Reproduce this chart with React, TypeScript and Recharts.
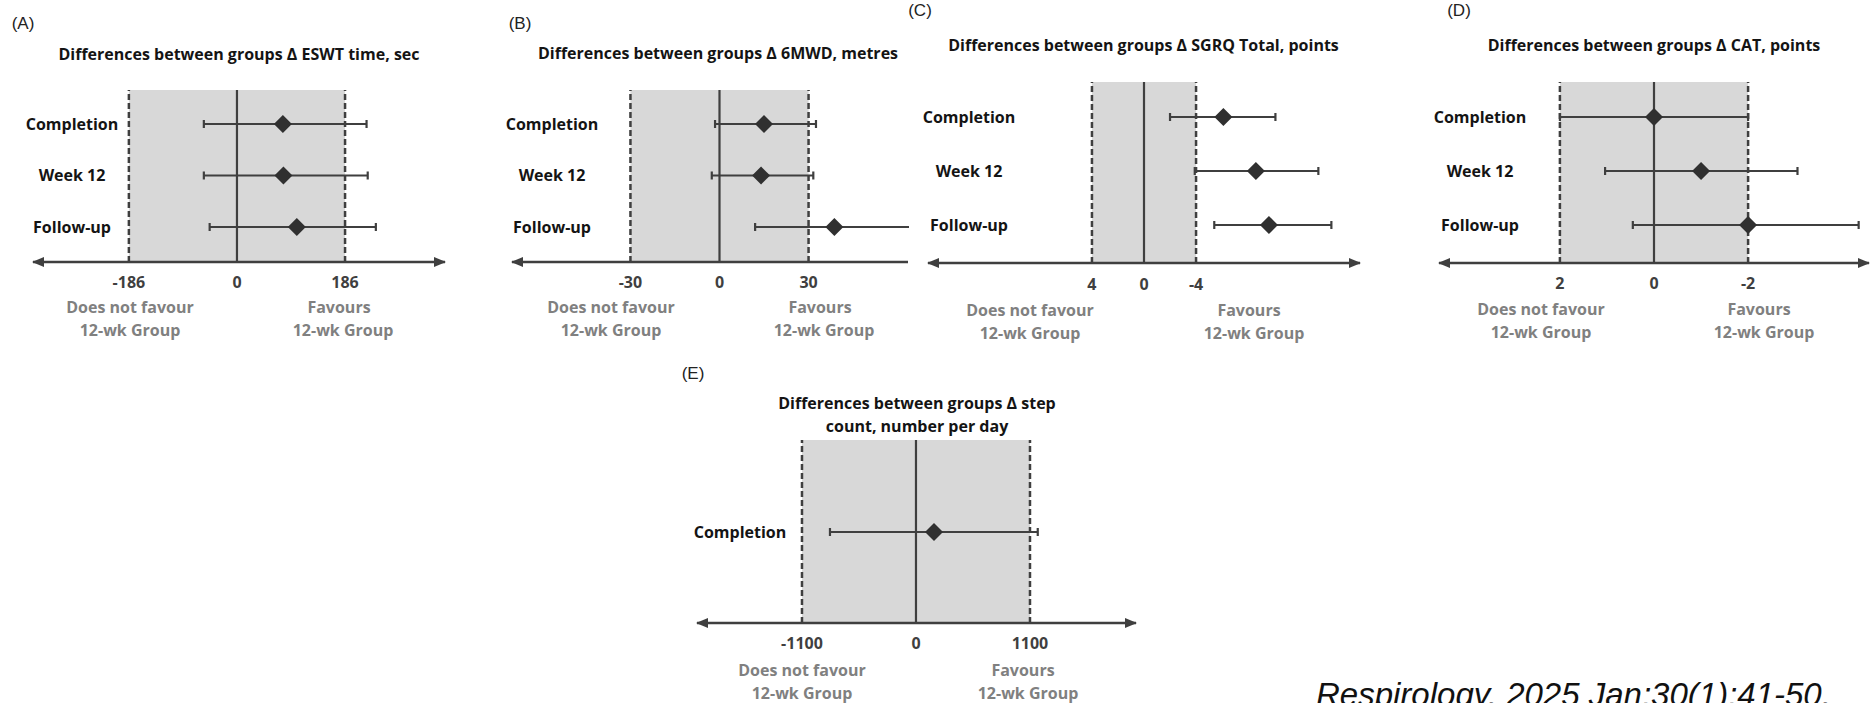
import React from 'react';
import { ScatterChart, Scatter, XAxis, YAxis, ReferenceArea, ReferenceLine, ErrorBar } from 'recharts';

const FONT = "'Open Sans', 'Noto Sans', sans-serif";
const INK = '#3f3f3f';
const DARK = '#141414';
const GREY = '#808080';
const SHADE = '#d8d8d8';

// ---------- data ----------
const rows3 = ['Completion', 'Week 12', 'Follow-up'];
const rows1 = ['Completion'];

// (A) ESWT time, sec
const eswtEst = [79, 80, 103];
const eswtLow = [-57, -57, -47];
const eswtHigh = [223, 225, 239];
const eswtTicks = [-186, 0, 186];

// (B) 6MWD, metres
const mwdEst = [15, 14, 38.7];
const mwdLow = [-1.5, -2.6, 12];
const mwdHigh = [32.5, 31.6, 66];
const mwdTicks = [-30, 0, 30];

// (C) SGRQ Total, points (axis reversed)
const sgrqEst = [-6.1, -8.6, -9.6];
const sgrqLow = [-2.0, -3.9, -5.4];
const sgrqHigh = [-10.1, -13.4, -14.4];
const sgrqTicks = [4, 0, -4];

// (D) CAT, points (axis reversed)
const catEst = [0, -1.0, -2.0];
const catLow = [2.0, 1.04, 0.45];
const catHigh = [-2.0, -3.05, -4.35];
const catTicks = [2, 0, -2];

// (E) step count, number per day
const stepEst = [174];
const stepLow = [-830];
const stepHigh = [1175];
const stepTicks = [-1100, 0, 1100];

const leftLabel = ['Does not favour', '12-wk Group'];
const rightLabel = ['Favours', '12-wk Group'];

type Cfg = {
  id: string;
  label: string;
  title: string[];
  rows: string[];
  est: number[];
  lo: number[];
  hi: number[];
  ticks: number[];
  shade: [number, number];
  domain: [number, number];
  reversed: boolean;
  rowDomain: [number, number];
  x0: number; x1: number; y0: number; y1: number;
  labelCX: number;
  tickY: number;
  arrowL: boolean; arrowR: boolean;
  clipRight: boolean;
  panelPos: [number, number];
  titlePos: [number, number];
  titleGap: number;
  dnf: [number, number, number, number];
  fav: [number, number, number, number];
};

const panels: Cfg[] = [
  {
    id: 'A', label: '(A)', title: ['Differences between groups \u0394 ESWT time, sec'],
    rows: rows3, est: eswtEst, lo: eswtLow, hi: eswtHigh, ticks: eswtTicks,
    shade: [-186, 186], domain: [-351, 358], reversed: false, rowDomain: [-0.66, 2.68],
    x0: 33, x1: 445, y0: 90, y1: 262, labelCX: 72, tickY: 282, arrowL: true, arrowR: true, clipRight: false,
    panelPos: [23, 23], titlePos: [239, 54], titleGap: 0,
    dnf: [130, 307, 130, 330], fav: [339, 307, 343, 330],
  },
  {
    id: 'B', label: '(B)', title: ['Differences between groups \u0394 6MWD, metres'],
    rows: rows3, est: mwdEst, lo: mwdLow, hi: mwdHigh, ticks: mwdTicks,
    shade: [-30, 30], domain: [-69.9, 63.5], reversed: false, rowDomain: [-0.66, 2.68],
    x0: 512, x1: 908, y0: 90, y1: 262, labelCX: 552, tickY: 282, arrowL: true, arrowR: false, clipRight: true,
    panelPos: [520, 23], titlePos: [718, 53], titleGap: 0,
    dnf: [611, 307, 611, 330], fav: [820, 307, 824, 330],
  },
  {
    id: 'C', label: '(C)', title: ['Differences between groups \u0394 SGRQ Total, points'],
    rows: rows3, est: sgrqEst, lo: sgrqLow, hi: sgrqHigh, ticks: sgrqTicks,
    shade: [-4, 4], domain: [-16.6, 16.6], reversed: true, rowDomain: [-0.648, 2.704],
    x0: 928, x1: 1360, y0: 82, y1: 263, labelCX: 969, tickY: 284, arrowL: true, arrowR: true, clipRight: false,
    panelPos: [920, 10], titlePos: [1143.5, 45], titleGap: 0,
    dnf: [1030, 310, 1030, 333], fav: [1249, 310, 1254, 333],
  },
  {
    id: 'D', label: '(D)', title: ['Differences between groups \u0394 CAT, points'],
    rows: rows3, est: catEst, lo: catLow, hi: catHigh, ticks: catTicks,
    shade: [-2, 2], domain: [-4.57, 4.57], reversed: true, rowDomain: [-0.648, 2.704],
    x0: 1439, x1: 1869, y0: 82, y1: 263, labelCX: 1480, tickY: 283, arrowL: true, arrowR: true, clipRight: false,
    panelPos: [1459, 10], titlePos: [1654, 45], titleGap: 0,
    dnf: [1541, 309, 1541, 332], fav: [1759, 309, 1764, 332],
  },
  {
    id: 'E', label: '(E)', title: ['Differences between groups \u0394 step', 'count, number per day'],
    rows: rows1, est: stepEst, lo: stepLow, hi: stepHigh, ticks: stepTicks,
    shade: [-1100, 1100], domain: [-2113, 2123], reversed: false, rowDomain: [-1.786, 1.767],
    x0: 697, x1: 1136, y0: 440, y1: 623, labelCX: 740, tickY: 643, arrowL: true, arrowR: true, clipRight: false,
    panelPos: [693, 373], titlePos: [917, 403], titleGap: 23,
    dnf: [802, 670, 802, 693], fav: [1023, 670, 1028, 693],
  },
];

const Diamond = (p: any) => {
  const { cx, cy } = p;
  if (cx == null || cy == null) return <g />;
  const r = 9;
  return <path d={`M${cx},${cy - r}L${cx + r},${cy}L${cx},${cy + r}L${cx - r},${cy}Z`} fill="#303030" />;
};

const M = 10;
const YW = 2;
const XH = 60;

function Panel({ cfg }: { cfg: Cfg }) {
  const W = cfg.x1 - cfg.x0 + 2 * M;
  const H = cfg.y1 - cfg.y0 + M + XH;
  const left = cfg.x0 - M;
  const top = cfg.y0 - M;
  const data = cfg.rows.map((name, i) => {
    const a = Math.min(cfg.lo[i], cfg.hi[i]);
    const b = Math.max(cfg.lo[i], cfg.hi[i]);
    return { name, row: i, est: cfg.est[i], err: [cfg.est[i] - a, b - cfg.est[i]] };
  });
  const rowTick = (p: any) => (
    <text
      x={cfg.labelCX - left}
      y={p.y}
      textAnchor="middle"
      dominantBaseline="central"
      fontFamily={FONT}
      fontWeight={700}
      fontSize={16}
      fill={DARK}
    >
      {cfg.rows[Math.round(p.payload.value)]}
    </text>
  );
  const xTick = (p: any) => (
    <text
      x={p.x}
      y={cfg.tickY - top}
      textAnchor="middle"
      dominantBaseline="central"
      fontFamily={FONT}
      fontWeight={700}
      fontSize={16}
      fill={INK}
    >
      {String(p.payload.value)}
    </text>
  );
  const boxW = cfg.clipRight ? cfg.x1 - left + 1 : W;
  return (
    <div style={{ position: 'absolute', left, top, width: boxW, height: H, overflow: 'hidden' }}>
      <ScatterChart width={W} height={H} margin={{ top: M, right: M, bottom: 0, left: M - YW }}>
        <XAxis
          type="number"
          dataKey="est"
          domain={cfg.domain}
          allowDataOverflow
          reversed={cfg.reversed}
          ticks={cfg.ticks}
          interval={0}
          height={XH}
          tickLine={false}
          axisLine={{
            stroke: INK,
            strokeWidth: 2.5,
            markerStart: cfg.arrowL ? 'url(#axArrow)' : undefined,
            markerEnd: cfg.arrowR ? 'url(#axArrow)' : undefined,
          } as any}
          tick={xTick}
        />
        <YAxis
          type="number"
          dataKey="row"
          domain={cfg.rowDomain}
          allowDataOverflow
          reversed
          ticks={cfg.rows.map((_, i) => i)}
          interval={0}
          width={YW}
          axisLine={false}
          tickLine={false}
          tick={rowTick}
        />
        <ReferenceArea x1={cfg.shade[0]} x2={cfg.shade[1]} fill={SHADE} fillOpacity={1} stroke="none" />
        <ReferenceLine x={cfg.shade[0]} stroke={INK} strokeWidth={2.5} strokeDasharray="6 3" />
        <ReferenceLine x={cfg.shade[1]} stroke={INK} strokeWidth={2.5} strokeDasharray="6 3" />
        <ReferenceLine x={0} stroke={INK} strokeWidth={2.2} />
        <Scatter data={data} dataKey="est" isAnimationActive={false} shape={Diamond}>
          <ErrorBar dataKey="err" direction="x" width={4} stroke={INK} strokeWidth={2.2} isAnimationActive={false} />
        </Scatter>
      </ScatterChart>
    </div>
  );
}

function Overlay() {
  const t = (x: number, y: number, s: string, opts: any = {}, key?: string) => (
    <text
      key={key ?? `${x}-${y}-${s}`}
      x={x}
      y={y}
      textAnchor="middle"
      dominantBaseline="central"
      fontFamily={FONT}
      fontWeight={700}
      fontSize={16}
      fill={DARK}
      {...opts}
    >
      {s}
    </text>
  );
  return (
    <svg width={1870} height={703} style={{ position: 'absolute', left: 0, top: 0 }}>
      <defs>
        <marker
          id="axArrow"
          viewBox="0 0 12 10"
          refX={11}
          refY={5}
          markerWidth={12}
          markerHeight={10}
          markerUnits="userSpaceOnUse"
          orient="auto-start-reverse"
        >
          <path d="M0,0 L12,5 L0,10 Z" fill={INK} />
        </marker>
      </defs>
      {panels.map((c) => (
        <g key={c.id}>
          {t(c.panelPos[0], c.panelPos[1], c.label, {
            fontFamily: "'Liberation Sans', Arial, sans-serif",
            fontWeight: 400,
            fontSize: 17,
            fill: '#222',
          })}
          {c.title.map((line, i) =>
            t(c.titlePos[0], c.titlePos[1] + i * c.titleGap, line, { fontSize: 16 }, `${c.id}-t${i}`)
          )}
          {t(c.dnf[0], c.dnf[1], leftLabel[0], { fill: GREY })}
          {t(c.dnf[2], c.dnf[3], leftLabel[1], { fill: GREY })}
          {t(c.fav[0], c.fav[1], rightLabel[0], { fill: GREY })}
          {t(c.fav[2], c.fav[3], rightLabel[1], { fill: GREY })}
        </g>
      ))}
      <text
        x={1316}
        y={706}
        fontFamily="'Liberation Sans', Arial, sans-serif"
        fontStyle="italic"
        fontSize={33}
        fill="#111"
      >
        Respirology. 2025 Jan;30(1):41-50.
      </text>
    </svg>
  );
}

export default function App() {
  return (
    <div style={{ position: 'absolute', left: 0, top: 0, width: 1870, height: 703, background: '#fff', overflow: 'hidden' }}>
      <Overlay />
      {panels.map((c) => (
        <Panel key={c.id} cfg={c} />
      ))}
    </div>
  );
}
